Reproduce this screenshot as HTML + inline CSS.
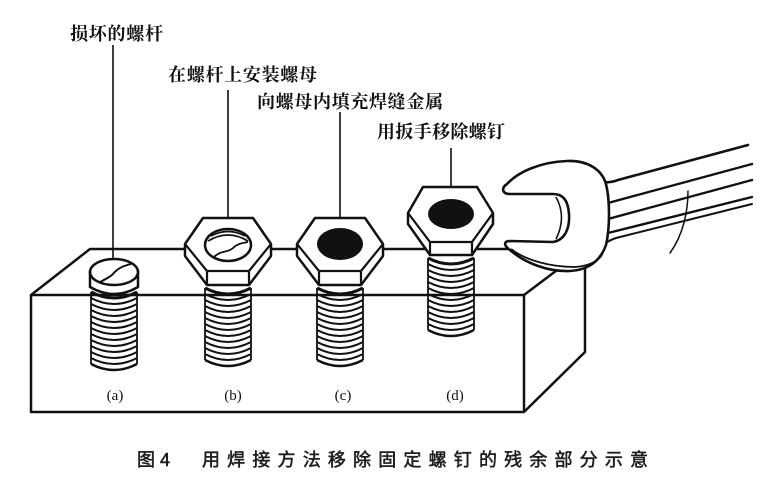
<!DOCTYPE html>
<html>
<head>
<meta charset="utf-8">
<style>
  html,body{margin:0;padding:0;background:#fff;}
  svg{display:block;}
  .lbl{font-family:"Liberation Serif","Noto Serif CJK SC","Noto Sans CJK SC",serif;font-size:18px;font-weight:700;fill:#111;}
  .cap{font-family:"Liberation Sans","Noto Sans CJK SC",sans-serif;font-size:18px;font-weight:400;fill:#1e1e1e;stroke:#1e1e1e;stroke-width:0.55;}
  .sub{font-family:"Liberation Serif",serif;font-size:15px;fill:#111;}
</style>
</head>
<body>
<svg width="765" height="495" viewBox="0 0 765 495" xmlns="http://www.w3.org/2000/svg">
  <rect width="765" height="495" fill="#fff"/>
  <defs>
    <g id="thr" fill="none" stroke="#111">
      <path stroke-width="2.1" d="M-23,6Q0,18 23,6M-23,12Q0,24 23,12M-23,18Q0,30 23,18M-23,24Q0,36 23,24M-23,30Q0,42 23,30M-23,36Q0,48 23,36M-23,42Q0,54 23,42M-23,48Q0,60 23,48M-23,54Q0,66 23,54M-23,60Q0,72 23,60M-23,66Q0,78 23,66"/>
      <path stroke-width="3" d="M-23,0Q0,12 23,0"/>
      <path stroke-width="2.4" d="M-23,72Q0,84 23,72"/>
      <path stroke-width="1.8" d="M-23,0V72M23,0V72"/>
    </g>
  </defs>

  <!-- block -->
  <path d="M31,295 L90,249 L585,249 L585,352 L524,412 L31,412 Z" fill="#fff" stroke="#111" stroke-width="2.5" stroke-linejoin="round"/>
  <path d="M524,295 L524,412 M524,295 L585,249" fill="none" stroke="#111" stroke-width="2.5"/>

  <!-- leader lines -->
  <path d="M113,45 V260 M228,90 V218 M340,112 V218 M451,148 V187" stroke="#111" stroke-width="1.6" fill="none"/>

  <!-- threads -->
  <use href="#thr" transform="translate(114,292)"/>
  <use href="#thr" transform="translate(228,288)"/>
  <use href="#thr" transform="translate(340,288)"/>
  <use href="#thr" transform="translate(451,258)"/>

  <!-- front top edge over threads -->
  <path d="M31,295 L524,295" stroke="#111" stroke-width="2.5" fill="none"/>

  <!-- bolt a head -->
  <path d="M90,272 L90,287 Q114,301 138,287 L138,272 Z" fill="#fff" stroke="#111" stroke-width="2.5"/>
  <ellipse cx="114" cy="272" rx="24" ry="13" fill="#fff" stroke="#111" stroke-width="2.5"/>
  <path d="M100,282 C106,279 110,277 113,274 C116,270 122,266 131,264" fill="none" stroke="#111" stroke-width="2"/>

  <!-- nut b -->
  <path d="M203,218 L253,218 L271,244 L271,256 L249,285 L207,285 L185,256 L185,244 Z" fill="#fff" stroke="#111" stroke-width="2.5" stroke-linejoin="round"/>
  <path d="M185,244 L207,271 L249,271 L271,244 M207,271 V285 M249,271 V285" fill="none" stroke="#111" stroke-width="2.2"/>
  <ellipse cx="228" cy="245" rx="23" ry="16" fill="#fff" stroke="#111" stroke-width="2.5"/>
  <path d="M208,241 Q228,229 248,241 M211,236 Q228,227 245,236 M213,258 C220,250 228,253 233,248 C237,244 242,243 248,242" fill="none" stroke="#111" stroke-width="1.8"/>

  <!-- nut c -->
  <path d="M315,218 L365,218 L383,244 L383,256 L361,285 L319,285 L297,256 L297,244 Z" fill="#fff" stroke="#111" stroke-width="2.5" stroke-linejoin="round"/>
  <path d="M297,244 L319,271 L361,271 L383,244 M319,271 V285 M361,271 V285" fill="none" stroke="#111" stroke-width="2.2"/>
  <ellipse cx="340" cy="244" rx="23" ry="16" fill="#111"/>

  <!-- nut d -->
  <path d="M423,187 L477,187 L493,213 L493,224 L472,255 L430,255 L408,224 L408,213 Z" fill="#fff" stroke="#111" stroke-width="2.5" stroke-linejoin="round"/>
  <path d="M408,213 L430,242 L472,242 L493,213 M430,242 V255 M472,242 V255" fill="none" stroke="#111" stroke-width="2.2"/>
  <ellipse cx="451" cy="214" rx="23" ry="15" fill="#111"/>

  <!-- wrench handle -->
  <g fill="none" stroke="#111" stroke-linecap="round">
    <path d="M604,182 Q610,183 618,180 L748,145" stroke-width="2.6"/>
    <path d="M608,203 L752,164" stroke-width="2.4"/>
    <path d="M608,219 L752,180" stroke-width="2.4"/>
    <path d="M608,233 L752,197" stroke-width="2.4"/>
    <path d="M604,244 Q610,240 616,238 L752,204" stroke-width="2"/>
    <path d="M688,191 C688,212 683,235 670,253" stroke-width="1.5"/>
  </g>
  <!-- wrench head -->
  <path d="M507,184 C518,172 540,162 567,161 C588,160 602,170 606,184 C610,200 610,228 606,245 C600,262 587,270 570,271 C548,272 525,263 510,250 C503,245 504,241 510,241 L553,242 C565,240 570,228 569,214 C568,200 563,194 553,194 L510,194 C502,194 501,188 507,184 Z" fill="#fff" stroke="#111" stroke-width="2.6" stroke-linejoin="round"/>
  <path d="M556,197 Q567,217 556,239" fill="none" stroke="#111" stroke-width="1.6"/>
  <path d="M511,249 C525,260 550,267 575,267 C588,266 597,262 602,255" fill="none" stroke="#111" stroke-width="1.8"/>

  <!-- labels -->
  <text class="lbl" x="70" y="40" textLength="93" lengthAdjust="spacing">损坏的螺杆</text>
  <text class="lbl" x="168" y="81" textLength="149" lengthAdjust="spacing">在螺杆上安装螺母</text>
  <text class="lbl" x="257" y="108" textLength="186" lengthAdjust="spacing">向螺母内填充焊缝金属</text>
  <text class="lbl" x="377" y="138" textLength="128" lengthAdjust="spacing">用扳手移除螺钉</text>

  <text class="sub" x="115" y="400" text-anchor="middle">(a)</text>
  <text class="sub" x="233" y="400" text-anchor="middle">(b)</text>
  <text class="sub" x="343" y="400" text-anchor="middle">(c)</text>
  <text class="sub" x="455" y="400" text-anchor="middle">(d)</text>

  <!-- caption -->
  <text class="cap" x="137" y="466" textLength="33" lengthAdjust="spacing">图4</text>
  <text class="cap" x="202" y="466" textLength="446" lengthAdjust="spacing">用焊接方法移除固定螺钉的残余部分示意</text>
</svg>
</body>
</html>
